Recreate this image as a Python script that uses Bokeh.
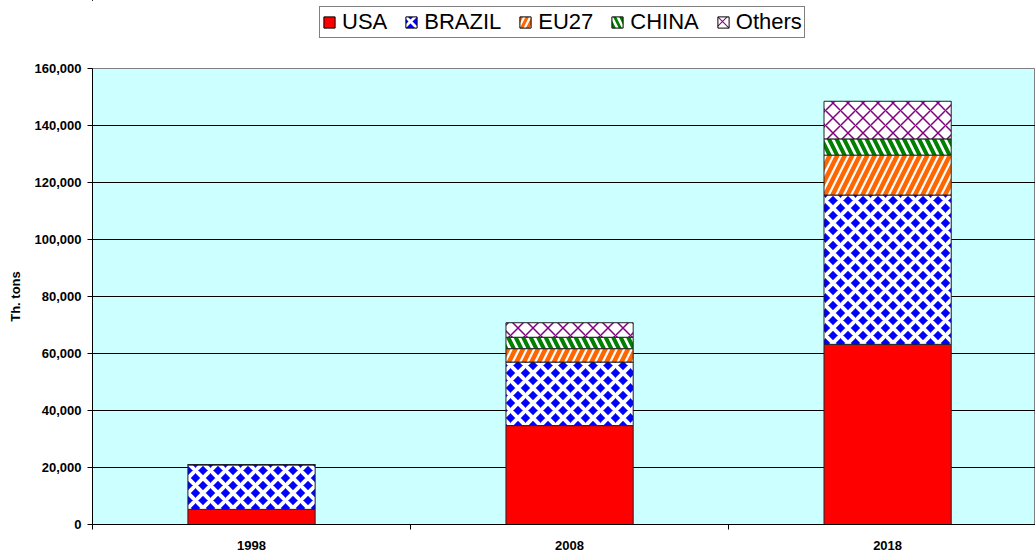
from bokeh.plotting import figure
from bokeh.layouts import column
from bokeh.models import ColumnDataSource, Legend, FixedTicker, NumeralTickFormatter, Range1d
from bokeh.embed import file_html
from bokeh.resources import INLINE

years = ["1998", "2008", "2018"]
usa = [5300, 34700, 63200]
brazil = [15700, 22300, 52400]
eu27 = [0, 4700, 14000]
china = [0, 4000, 5700]
others = [0, 5100, 13200]

series = ["USA", "BRAZIL", "EU27", "CHINA", "Others"]
x_pos = [i + 0.5 for i in range(len(years))]

source = ColumnDataSource(dict(x=x_pos, USA=usa, BRAZIL=brazil, EU27=eu27, CHINA=china, Others=others))

FONT = "Liberation Sans"
fills = ["#FF0000", "#0000FF", "white", "white", "white"]
patterns = [" ", "diagonal_cross", "right_diagonal_line", "left_diagonal_line", "diagonal_cross"]
hcolors = ["#FF0000", "white", "#FF6600", "#008000", "#800080"]
hweights = [1, 4, 4.5, 4, 1.5]
hscales = [12, 15, 15, 15, 15]

# ---- main chart ----
p = figure(width=1035, height=502, output_backend="svg", toolbar_location=None,
           x_range=Range1d(0, 2.965), y_range=Range1d(0, 160000),
           min_border_left=92, min_border_top=18, min_border_bottom=26, min_border_right=0)

p.background_fill_color = "#CCFFFF"
p.border_fill_color = "white"
p.outline_line_color = "#808080"
p.outline_line_width = 1

renderers = p.vbar_stack(
    series, x="x", width=0.4, source=source,
    fill_color=fills, line_color="#222222", line_width=1,
    hatch_pattern=patterns, hatch_color=hcolors,
    hatch_weight=hweights, hatch_scale=hscales,
)

# y axis
p.yaxis.ticker = FixedTicker(ticks=list(range(0, 160001, 20000)))
p.yaxis.formatter = NumeralTickFormatter(format="0,0")
p.yaxis.axis_label = "Th. tons"
p.yaxis.axis_label_text_font = FONT
p.yaxis.axis_label_text_font_style = "bold"
p.yaxis.axis_label_text_font_size = "13px"
p.yaxis.axis_label_text_color = "black"
p.yaxis.axis_label_standoff = 9
p.yaxis.major_label_text_font = FONT
p.yaxis.major_label_text_font_style = "bold"
p.yaxis.major_label_text_font_size = "13px"
p.yaxis.major_label_text_color = "black"
p.yaxis.major_label_standoff = 6
p.yaxis.major_tick_out = 5
p.yaxis.major_tick_in = 0
p.yaxis.minor_tick_out = 0
p.yaxis.minor_tick_in = 0
p.yaxis.axis_line_color = "black"
p.yaxis.major_tick_line_color = "black"

# x axis
p.xaxis.ticker = FixedTicker(ticks=x_pos, minor_ticks=list(range(0, len(years) + 1)))
p.xaxis.major_label_overrides = {x: y for x, y in zip(x_pos, years)}
p.xaxis.major_label_text_font = FONT
p.xaxis.major_label_text_font_style = "bold"
p.xaxis.major_label_text_font_size = "13px"
p.xaxis.major_label_text_color = "black"
p.xaxis.major_tick_out = 0
p.xaxis.major_tick_in = 0
p.xaxis.minor_tick_out = 5
p.xaxis.minor_tick_in = 0
p.xaxis.major_label_standoff = 11
p.xaxis.axis_line_color = "black"
p.xaxis.minor_tick_line_color = "black"

p.xgrid.grid_line_color = None
p.ygrid.ticker = FixedTicker(ticks=list(range(0, 140001, 20000)))
p.ygrid.grid_line_color = "black"
p.ygrid.grid_line_width = 1

# ---- legend strip (same data, drawn far outside its visible range) ----
lg = figure(width=1035, height=50, output_backend="svg", toolbar_location=None,
            x_axis_type=None, y_axis_type=None,
            x_range=Range1d(100, 103), y_range=Range1d(-2e6, -1e6),
            min_border_left=0, min_border_top=0, min_border_bottom=0, min_border_right=0)
lg.outline_line_color = None
lg.background_fill_color = "white"
lg.xgrid.grid_line_color = None
lg.ygrid.grid_line_color = None

items = []
for s, fc, hp, hc, hw, hs in zip(series, fills, patterns, hcolors, hweights, hscales):
    r = lg.vbar(x="x", top=s, bottom=0, width=0.4, source=source,
                fill_color=fc, line_color="black", line_width=1,
                hatch_pattern=hp, hatch_color=hc, hatch_weight=hw * 0.7, hatch_scale=hs * 0.8)
    items.append((s, [r]))

legend = Legend(items=items, orientation="horizontal", location=(227, 12),
                label_text_font=FONT, label_text_font_size="22px", label_text_color="black",
                glyph_width=14, glyph_height=14, label_standoff=6, spacing=17,
                padding=2, margin=0, border_line_color="black", border_line_width=1,
                label_height=22, background_fill_color="white", background_fill_alpha=1)
lg.add_layout(legend, "center")

layout = column(lg, p, spacing=0)

open("out.html", "w").write(file_html(layout, INLINE))
